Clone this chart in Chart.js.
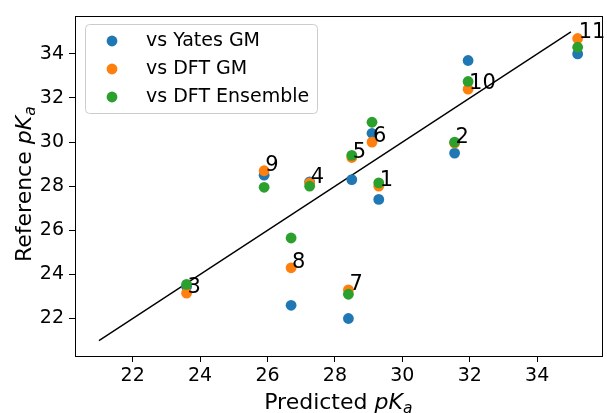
<!DOCTYPE html>
<html>
<head>
<meta charset="utf-8">
<script src="https://cdn.jsdelivr.net/npm/chart.js@4.4.1/dist/chart.umd.min.js"></script>
<style>
  html, body { margin: 0; padding: 0; background: #fff; }
  #wrap { width: 607px; height: 413px; }
</style>
</head>
<body>
<div id="wrap"><canvas id="grafico" width="607" height="413"></canvas></div>
<script>
// dados
const rotulos = ['1', '2', '3', '4', '5', '6', '7', '8', '9', '10', '11'];
const predito = [29.3, 31.55, 23.6, 27.25, 28.5, 29.1, 28.4, 26.7, 25.9, 31.95, 35.2];
const yatesGM = [27.4, 29.5, 23.45, 28.2, 28.3, 30.4, 22.0, 22.6, 28.5, 33.7, 34.0];
const dftGM = [28.0, 29.95, 23.15, 28.15, 29.3, 30.0, 23.3, 24.3, 28.7, 32.4, 34.7];
const dftEnsemble = [28.15, 30.0, 23.55, 28.0, 29.4, 30.9, 23.1, 25.65, 27.95, 32.75, 34.3];
const linhaRef = [21, 35];
const ticksX = [22, 24, 26, 28, 30, 32, 34];
const ticksY = [22, 24, 26, 28, 30, 32, 34];

const FONTE = 'DejaVu Sans';

// margem de 5% como no matplotlib
function limites(valores) {
  const min = Math.min(...valores);
  const max = Math.max(...valores);
  const pad = (max - min) * 0.05;
  return { min: min - pad, max: max + pad };
}
const limX = limites(predito.concat(linhaRef));
const limY = limites(yatesGM.concat(dftGM, dftEnsemble, linhaRef));

function pontos(ys) {
  return predito.map((x, i) => ({ x: x, y: ys[i] }));
}

// texto com pK_a (itálico + subscrito)
function partesTitulo(base) {
  return [
    { t: base, f: `22px "${FONTE}"`, dy: 0 },
    { t: 'pK', f: `italic 22px "${FONTE}"`, dy: 0 },
    { t: 'a', f: `italic 15.5px "${FONTE}"`, dy: 4 }
  ];
}

function desenharPartes(ctx, partes, cx, baseline) {
  let total = 0;
  partes.forEach(p => { ctx.font = p.f; total += ctx.measureText(p.t).width; });
  let x = cx - total / 2;
  ctx.textAlign = 'left';
  ctx.textBaseline = 'alphabetic';
  partes.forEach(p => {
    ctx.font = p.f;
    ctx.fillText(p.t, x, baseline + p.dy);
    x += ctx.measureText(p.t).width;
  });
}

const extras = {
  id: 'extras',
  afterDatasetsDraw(chart) {
    const ctx = chart.ctx;
    const { left, right, top, bottom } = chart.chartArea;
    const sx = chart.scales.x;
    const sy = chart.scales.y;
    ctx.save();

    // moldura completa
    ctx.strokeStyle = '#000';
    ctx.lineWidth = 1;
    ctx.strokeRect(Math.round(left) + 0.5, Math.round(top) + 0.5, Math.round(right - left), Math.round(bottom - top));

    // números junto aos pontos DFT GM
    ctx.fillStyle = '#000';
    ctx.font = `21px "${FONTE}"`;
    ctx.textAlign = 'left';
    ctx.textBaseline = 'alphabetic';
    rotulos.forEach((r, i) => {
      ctx.fillText(r, sx.getPixelForValue(predito[i]) + 1, sy.getPixelForValue(dftGM[i]));
    });

    // títulos dos eixos
    desenharPartes(ctx, partesTitulo('Predicted '), (left + right) / 2, 409);
    ctx.save();
    ctx.translate(31, (top + bottom) / 2 - 2);
    ctx.rotate(-Math.PI / 2);
    desenharPartes(ctx, partesTitulo('Reference '), 0, 0);
    ctx.restore();

    // legenda
    const lx = 85, ly = 24, lw = 232, lh = 89;
    ctx.beginPath();
    ctx.roundRect(lx + 0.5, ly + 0.5, lw, lh, 4);
    ctx.fillStyle = 'rgba(255,255,255,0.8)';
    ctx.fill();
    ctx.strokeStyle = '#cccccc';
    ctx.stroke();
    const series = chart.data.datasets.filter(d => d.label);
    series.forEach((d, i) => {
      const yy = 41 + i * 28;
      ctx.beginPath();
      ctx.arc(112, yy, 5.4, 0, Math.PI * 2);
      ctx.fillStyle = d.backgroundColor;
      ctx.fill();
      ctx.fillStyle = '#000';
      ctx.font = `19px "${FONTE}"`;
      ctx.textBaseline = 'middle';
      ctx.fillText(d.label, 146, yy);
    });
    ctx.restore();
  }
};

const fonteTicks = { family: FONTE, size: 19 };

new Chart(document.getElementById('grafico').getContext('2d'), {
  type: 'scatter',
  data: {
    datasets: [
      { label: 'vs Yates GM', data: pontos(yatesGM), backgroundColor: '#1f77b4', borderWidth: 0, pointRadius: 5.4, order: 3 },
      { label: 'vs DFT GM', data: pontos(dftGM), backgroundColor: '#ff7f0e', borderWidth: 0, pointRadius: 5.4, order: 2 },
      { label: 'vs DFT Ensemble', data: pontos(dftEnsemble), backgroundColor: '#2ca02c', borderWidth: 0, pointRadius: 5.4, order: 1 },
      { label: '', data: linhaRef.map(v => ({ x: v, y: v })), showLine: true, borderColor: '#000', borderWidth: 1.4, pointRadius: 0, order: 4 }
    ]
  },
  options: {
    responsive: false,
    devicePixelRatio: 1,
    animation: false,
    events: [],
    layout: { padding: { left: 0, right: 4, top: 14, bottom: 0 } },
    plugins: { legend: { display: false }, tooltip: { enabled: false } },
    scales: {
      x: {
        type: 'linear', min: limX.min, max: limX.max,
        afterBuildTicks: s => { s.ticks = ticksX.map(v => ({ value: v })); },
        afterFit: s => { s.height = 57; },
        ticks: { font: fonteTicks, color: '#000', padding: 3, callback: v => v },
        grid: { drawOnChartArea: false, tickLength: 6, color: '#000' },
        border: { color: '#000', width: 1 }
      },
      y: {
        type: 'linear', min: limY.min, max: limY.max,
        afterBuildTicks: s => { s.ticks = ticksY.map(v => ({ value: v })); },
        afterFit: s => { s.width = 75; },
        ticks: { font: fonteTicks, color: '#000', padding: 5, callback: v => v },
        grid: { drawOnChartArea: false, tickLength: 6, color: '#000' },
        border: { color: '#000', width: 1 }
      }
    }
  },
  plugins: [extras]
});
</script>
</body>
</html>
